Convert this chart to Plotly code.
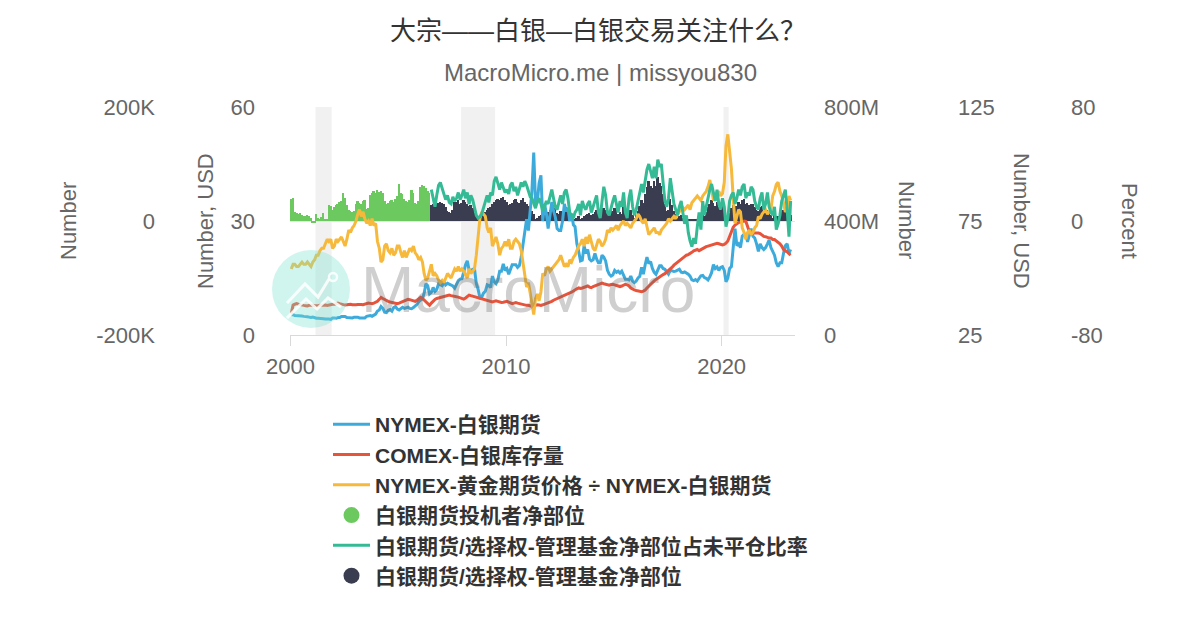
import pandas as pd
import plotly.graph_objects as go

# ---------------- data (monthly) ----------------
months = pd.date_range("2000-01-01", "2023-03-01", freq="MS") + pd.Timedelta(days=14)

silver_usd = [
    5.3, 5.4, 5.1, 5.1, 5.0, 5.0, 5.0, 4.9, 4.9, 4.8, 4.7, 4.6,
    4.7, 4.5, 4.4, 4.4, 4.4, 4.4, 4.3, 4.2, 4.3, 4.2, 4.1, 4.5,
    4.5, 4.4, 4.6, 4.6, 4.9, 4.9, 4.9, 4.6, 4.5, 4.4, 4.5, 4.7,
    4.8, 4.7, 4.5, 4.5, 4.6, 4.5, 4.9, 5.0, 5.1, 4.9, 5.2, 5.5,
    6.3, 6.6, 7.5, 7.0, 6.0, 5.9, 6.5, 6.7, 6.3, 7.2, 7.5, 6.8,
    6.6, 7.1, 7.3, 7.0, 7.2, 7.3, 7.0, 6.9, 7.2, 7.6, 8.1, 8.8,
    9.2, 9.6, 11.0, 13.5, 13.0, 10.8, 11.2, 12.5, 11.5, 12.0, 13.5, 13.2,
    13.0, 14.0, 13.2, 13.6, 13.3, 13.0, 12.9, 12.3, 13.2, 14.3, 14.7, 14.8,
    16.5, 18.5, 19.5, 17.1, 17.0, 17.2, 17.5, 13.5, 12.0, 9.8, 10.0, 11.0,
    11.5, 13.2, 13.0, 12.5, 15.5, 14.0, 13.5, 14.5, 16.8, 16.8, 18.7, 17.0,
    17.5, 16.0, 17.5, 18.5, 18.5, 18.5, 17.8, 18.3, 20.5, 23.8, 27.0, 30.5,
    27.5, 33.0, 37.8, 48.0, 35.0, 35.0, 40.0, 42.0, 30.0, 34.5, 32.0, 28.0,
    32.0, 35.0, 32.7, 31.0, 28.0, 27.5, 27.5, 30.0, 34.5, 32.5, 33.5, 30.0,
    32.0, 29.0, 28.5, 24.0, 22.0, 19.5, 19.7, 23.5, 21.5, 22.5, 20.0, 19.5,
    19.8, 21.5, 20.0, 19.0, 19.0, 21.0, 20.5, 19.5, 17.0, 16.0, 15.5, 15.8,
    17.0, 16.5, 16.8, 16.3, 16.8, 15.6, 14.7, 14.7, 14.5, 15.5, 14.2, 13.8,
    14.2, 15.0, 15.4, 17.8, 16.0, 18.5, 20.5, 18.8, 19.3, 17.5, 16.5, 16.0,
    17.0, 18.2, 18.2, 17.5, 17.3, 16.5, 16.0, 17.0, 16.8, 16.7, 16.8, 17.0,
    17.3, 16.5, 16.4, 16.6, 16.4, 16.0, 15.5, 14.5, 14.3, 14.6, 14.2, 15.0,
    15.6, 15.7, 15.1, 14.9, 14.5, 15.3, 16.4, 18.5, 17.5, 17.9, 17.0, 17.8,
    18.0, 17.0, 14.0, 15.0, 17.5, 18.0, 24.0, 28.0, 23.5, 24.0, 23.0, 26.0,
    26.5, 26.5, 24.5, 26.0, 28.0, 26.0, 25.5, 24.0, 22.0, 24.0, 23.0, 22.5,
    23.0, 24.0, 25.0, 23.0, 22.0, 21.0, 19.0, 18.0, 19.0, 19.0, 21.5, 23.5,
    24.0, 21.5, 22.5,
]

comex_stock_m = [
    75, 105, 108, 110, 108, 106, 105, 104, 103, 102, 104, 105,
    104, 103, 102, 103, 104, 105, 106, 105, 104, 106, 107, 108,
    108, 110, 112, 110, 108, 106, 105, 106, 107, 108, 106, 105,
    106, 107, 108, 107, 106, 108, 110, 112, 111, 110, 112, 115,
    118, 125, 132, 128, 124, 120, 118, 116, 115, 114, 112, 110,
    112, 115, 118, 120, 122, 125, 124, 122, 120, 118, 122, 128,
    132, 128, 122, 115, 108, 104, 112, 120, 125, 128, 130, 132,
    134, 136, 138, 140, 140, 138, 136, 135, 134, 133, 130, 128,
    126, 130, 135, 140, 138, 136, 134, 132, 130, 128, 126, 125,
    124, 122, 120, 118, 116, 118, 120, 118, 116, 114, 115, 117,
    118, 115, 112, 110, 112, 114, 112, 110, 108, 106, 105, 104,
    104, 102, 100, 102, 104, 106, 105, 104, 106, 108, 110, 112,
    115, 118, 122, 125, 128, 132, 135, 138, 140, 142, 145, 148,
    150, 155, 160, 162, 165, 163, 165, 168, 170, 172, 168, 166,
    170, 172, 176, 178, 180, 182, 180, 178, 176, 175, 177, 178,
    176, 174, 172, 170, 172, 175, 178, 176, 172, 165, 160, 158,
    156, 155, 153, 152, 154, 158, 165, 172, 178, 185, 190, 195,
    200, 205, 208, 212, 215, 220, 225, 232, 238, 245, 250, 258,
    262, 268, 272, 276, 280, 282, 285, 290, 295, 298, 300, 296,
    300, 304, 306, 310, 312, 314, 316, 318, 320, 322, 320, 318,
    316, 318, 322, 330, 348, 365, 378, 386, 392, 395, 396, 398,
    400, 398, 380, 362, 358, 358, 360, 360, 358, 356, 350, 346,
    345, 342, 340, 340, 335, 335, 330, 326, 320, 312, 300, 295,
    292, 285, 280,
]

gold_silver_ratio = [
    54, 56, 56, 55, 55, 56, 57, 56, 56, 57, 56, 55,
    57, 58, 60, 60, 62, 63, 63, 65, 67, 66, 67, 63,
    64, 67, 66, 67, 68, 66, 64, 67, 71, 70, 72, 73,
    75, 78, 80, 77, 79, 76, 74, 75, 73, 76, 73, 74,
    66, 63, 57, 58, 64, 65, 62, 61, 63, 60, 61, 64,
    64, 61, 59, 62, 59, 61, 63, 62, 64, 61, 60, 58,
    59, 57, 52, 49, 50, 53, 56, 51, 52, 51, 49, 48,
    49, 48, 50, 52, 51, 50, 52, 54, 53, 55, 53, 54,
    53, 51, 50, 54, 52, 53, 54, 60, 68, 76, 79, 78,
    77, 72, 70, 72, 64, 66, 68, 65, 60, 63, 64, 66,
    64, 67, 63, 63, 66, 67, 66, 65, 62, 57, 51, 46,
    48, 43, 38, 34, 41, 43, 40, 44, 52, 51, 54, 55,
    53, 54, 55, 56, 57, 58, 60, 57, 55, 56, 55, 58,
    57, 59, 60, 62, 64, 65, 67, 64, 68, 65, 69, 66,
    63, 62, 65, 67, 66, 64, 65, 67, 71, 70, 72, 71,
    72, 73, 71, 73, 74, 75, 73, 74, 73, 72, 74, 75,
    76, 78, 77, 75, 74, 76, 72, 69, 70, 71, 72, 70,
    70, 69, 71, 72, 73, 74, 76, 75, 76, 77, 76, 78,
    79, 80, 81, 80, 81, 82, 80, 83, 84, 85, 86, 85,
    84, 86, 87, 88, 90, 93, 89, 84, 86, 87, 88, 86,
    87, 92, 108, 113, 104, 98, 85, 74, 77, 80, 79, 72,
    70, 67, 70, 71, 69, 70, 72, 73, 77, 76, 78, 79,
    80, 78, 79, 80, 86, 88, 91, 92, 88, 86, 83, 79,
    80, 86, 84,
]

# speculators' net position, thousand contracts (2000-01 .. 2006-06)
spec_net_k = [
    38, 40, 16, 14, 12, 14, 10, 9, 8, 11, 9, 6,
    -4, -3, 12, 5, 3, 7, 14, 2, 2, 28, 27, 19,
    25, 28, 30, 33, 35, 49, 40, 28, 19, 17, 16, 18,
    30, 35, 31, 30, 35, 36, 21, 22, 45, 50, 52, 49,
    54, 51, 53, 50, 35, 30, 32, 35, 37, 34, 38, 44,
    65, 50, 47, 38, 35, 33, 36, 54, 50, 32, 30, 35,
    60, 64, 62, 58, 52, 49,
]

# managed money net position, thousand contracts (2006-07 .. 2023-03)
mm_net_k = [
    28, 30, 25, 30, 32, 33,
    32, 30, 25, 18, 16, 14, 20, 34, 33, 36, 30, 32,
    36, 34, 30, 26, 28, 22, 14, 10, 6, 5, 8, 10,
    16, 20, 22, 25, 30, 34, 36, 38, 36, 40, 42, 36,
    34, 28, 30, 32, 36, 38, 34, 32, 36, 40, 34, 30,
    26, 20, 18, 12, 4, 6, 8, 10, 12, 18, 14, 16,
    20, 24, 28, 22, 14, 12, 18, 16, 22, 25, 18, 10,
    6, 4, 3, 5, 8, 4, 6, 8, 10, 12, 14, 10,
    12, 16, 20, 14, 8, 14, 22, 20, 12, 10, 14, 18,
    22, 20, 12, 16, 12, 24, 14, 6, 12, 20, 10, 6,
    10, 18, 26, 36, 32, 48, 60, 70, 62, 58, 70, 62,
    77, 66, 62, 48, 30, 18, 20, 38, 28, 18, 12, 6,
    8, 10, 6, 3, 4, 2, 2, 2, 3, 2, 4, 8,
    4, 14, 8, 16, 24, 30, 36, 32, 26, 34, 24, 20,
    26, 20, 8, 4, 14, 22, 28, 20, 26, 34, 30, 36,
    38, 30, 32, 28, 30, 30, 24, 20, 18, 24, 26, 14,
    14, 20, 16, 10, 6, 10, 8, 8, 12, 18, 20, 16,
    12, 6, 10,
]

# managed money net position as % of open interest (2006-07 .. 2023-03)
mm_pct_oi = [
    22, 15, 10, 18, 25, 27,
    23, 20, 15, 18, 13, 12, 17, 14, 16, 20, 15, 18,
    22, 16, 20, 12, 18, 15, 10, 4, 2, 3, 5, 9,
    14, 18, 13, 20, 18, 28, 31, 26, 22, 27, 24, 20,
    22, 19, 25, 27, 21, 24, 18, 22, 27, 24, 28, 25,
    20, 17, 16, 12, 9, 14, 16, 12, 7, 10, 14, 12,
    18, 22, 16, 10, 8, 14, 18, 12, 20, 22, 16, 6,
    4, 2, 6, 8, 12, 4, 14, 10, 8, 12, 14, 6,
    10, 14, 18, 6, 2, 14, 24, 18, 6, 4, 10, 14,
    18, 12, 6, 14, 10, 20, 6, 2, 16, 22, 10, 4,
    8, 14, 20, 26, 20, 28, 36, 40, 34, 30, 38, 30,
    43, 38, 40, 28, 14, 10, 16, 30, 20, 12, 8, 4,
    10, 14, 6, -2, 4, -8, -14, -18, -12, -16, -4, 6,
    -6, 14, 4, 10, 18, 22, 26, 20, 14, 22, 12, 8,
    16, 10, -4, 2, 14, 18, 20, 12, 16, 22, 18, 24,
    26, 16, 20, 18, 24, 22, 14, 10, 8, 16, 20, 8,
    12, 20, 10, 6, 4, 10, -6, -2, 4, 14, 18, 22,
    8, -11, 14,
]

recessions = [("2001-03-01", "2001-11-30"), ("2007-12-01", "2009-06-30"), ("2020-02-01", "2020-04-30")]

names = {
    "silver": "NYMEX-白银期货",
    "comex": "COMEX-白银库存量",
    "ratio": "NYMEX-黄金期货价格 ÷ NYMEX-白银期货",
    "spec": "白银期货投机者净部位",
    "pct": "白银期货/选择权-管理基金净部位占未平仓比率",
    "mm": "白银期货/选择权-管理基金净部位",
}
colors = {
    "silver": "#3daadc",
    "comex": "#e8533b",
    "ratio": "#f6b93c",
    "spec": "#6cc95f",
    "pct": "#34bb95",
    "mm": "#3a3d4f",
}

# ---------------- layout geometry helpers ----------------
W, H = 1200, 630
ML, MR, MT, MB = 20, 20, 107, 295
PW = W - ML - MR
PH = H - MT - MB
def px(x):
    return (x - ML) / PW
def py(y):
    return (H - MB - y) / PH

x_spec = months[:len(spec_net_k)]
x_mm = months[len(spec_net_k):len(spec_net_k) + len(mm_net_k)]
bar_w = 31 * 24 * 3600 * 1000

fig = go.Figure()
# bars on primary axis (drawn first / lowest)
fig.add_trace(go.Bar(x=x_spec, y=spec_net_k, width=bar_w, marker=dict(color=colors["spec"], line=dict(width=0)),
                     yaxis="y", showlegend=False, name=names["spec"]))
fig.add_trace(go.Bar(x=x_mm, y=mm_net_k, width=bar_w, marker=dict(color=colors["mm"], line=dict(width=0)),
                     yaxis="y", showlegend=False, name=names["mm"]))
fig.add_trace(go.Scatter(x=months, y=silver_usd, mode="lines", line=dict(color=colors["silver"], width=3),
                         yaxis="y2", name=names["silver"], legendrank=1))
fig.add_trace(go.Scatter(x=months, y=comex_stock_m, mode="lines", line=dict(color=colors["comex"], width=3),
                         yaxis="y3", name=names["comex"], legendrank=2))
fig.add_trace(go.Scatter(x=months, y=gold_silver_ratio, mode="lines", line=dict(color=colors["ratio"], width=3),
                         yaxis="y4", name=names["ratio"], legendrank=3))
fig.add_trace(go.Scatter(x=x_mm, y=mm_pct_oi, mode="lines", line=dict(color=colors["pct"], width=3),
                         yaxis="y5", name=names["pct"], legendrank=5))
# legend entries for the bar series (circles)
fig.add_trace(go.Scatter(x=[None], y=[None], mode="markers", marker=dict(color=colors["spec"], size=16),
                         yaxis="y", name=names["spec"], legendrank=4))
fig.add_trace(go.Scatter(x=[None], y=[None], mode="markers", marker=dict(color=colors["mm"], size=16),
                         yaxis="y", name=names["mm"], legendrank=6))

tick_font = dict(size=22, color="#666666")
axis_common = dict(showgrid=False, zeroline=False, showline=False, ticks="", tickfont=tick_font,
                   fixedrange=True, automargin=False)

fig.update_layout(
    width=W, height=H, autosize=False,
    margin=dict(l=ML, r=MR, t=MT, b=MB, autoexpand=False),
    paper_bgcolor="white", plot_bgcolor="white",
    font=dict(family="Liberation Sans, Arial, Noto Sans CJK SC, sans-serif", color="#333333"),
    barmode="overlay", bargap=0,
    showlegend=True,
    title=dict(text="大宗——白银—白银交易关注什么？", x=598 / W, xanchor="center", y=1 - 31 / H, yanchor="middle",
               font=dict(size=26, color="#333333", family="Liberation Sans, Noto Sans CJK SC, sans-serif")),
    xaxis=dict(domain=[px(290), px(795)], type="date", range=["1999-12-25", "2023-05-28"],
               tickvals=["2000-01-01", "2010-01-01", "2020-01-01"], ticktext=["2000", "2010", "2020"],
               showgrid=False, zeroline=False, showline=True, linecolor="#d9d9d9", linewidth=1,
               ticks="outside", ticklen=10, tickcolor="#d9d9d9", tickfont=tick_font, ticklabelstandoff=2,
               anchor="y", fixedrange=True, automargin=False),
    yaxis=dict(axis_common, anchor="free", position=px(155), side="left", range=[-200, 200],
               tickvals=[-200, 0, 200], ticktext=["-200K", "0", "200K"], showgrid=True, gridcolor="#e6e6e6"),
    yaxis2=dict(axis_common, anchor="free", overlaying="y", position=px(255), side="left", range=[0, 60],
                tickvals=[0, 30, 60], ticktext=["0", "30", "60"]),
    yaxis3=dict(axis_common, anchor="free", overlaying="y", position=px(823), side="right", range=[0, 800],
                tickvals=[0, 400, 800], ticktext=["0", "400M", "800M"]),
    yaxis4=dict(axis_common, anchor="free", overlaying="y", position=px(957), side="right", range=[25, 125],
                tickvals=[25, 75, 125], ticktext=["25", "75", "125"]),
    yaxis5=dict(axis_common, anchor="free", overlaying="y", position=px(1070), side="right", range=[-80, 80],
                tickvals=[-80, 0, 80], ticktext=["-80", "0", "80"]),
    legend=dict(x=px(328), y=py(404), xanchor="left", yanchor="top", orientation="v",
                font=dict(size=21, color="#333333", weight="bold"), itemwidth=37,
                bgcolor="rgba(0,0,0,0)", traceorder="normal", itemclick=False, itemdoubleclick=False),
)

# recession shading
shapes = []
for a, b in recessions:
    shapes.append(dict(type="rect", xref="x", yref="paper", x0=a, x1=b, y0=0, y1=1,
                       fillcolor="rgba(0,0,0,0.055)", line=dict(width=0), layer="below"))

# watermark logo (circle + zigzag) on top
cx, cy, r = 311, 289, 39
shapes.append(dict(type="circle", xref="paper", yref="paper", x0=px(cx - r), x1=px(cx + r), y0=py(cy + r), y1=py(cy - r),
                   fillcolor="rgba(120,225,205,0.35)", line=dict(width=0), layer="above"))
def path_from(points):
    return "M " + " L ".join(f"{px(x):.5f},{py(y):.5f}" for x, y in points)
shapes.append(dict(type="path", xref="paper", yref="paper", path=path_from([(287, 303), (305, 284), (318, 297), (329, 279)]),
                   line=dict(color="rgba(255,255,255,0.85)", width=3), layer="above"))
shapes.append(dict(type="path", xref="paper", yref="paper", path=path_from([(287, 318), (306, 299), (317, 309), (328, 298), (341, 307)]),
                   line=dict(color="rgba(255,255,255,0.85)", width=3), layer="above"))
shapes.append(dict(type="circle", xref="paper", yref="paper", x0=px(329), x1=px(337), y0=py(281), y1=py(273),
                   fillcolor="rgba(0,0,0,0)", line=dict(color="rgba(255,255,255,0.85)", width=2.5), layer="above"))
fig.update_layout(shapes=shapes)

annotations = [
    dict(text="MacroMicro.me | missyou830", x=px(600), y=py(72), xref="paper", yref="paper", showarrow=False,
         xanchor="center", yanchor="middle", font=dict(size=24, color="#666666")),
    dict(text="MacroMicro", x=px(528), y=py(290), xref="paper", yref="paper", showarrow=False,
         xanchor="center", yanchor="middle", font=dict(size=64, color="rgba(110,110,110,0.33)")),
    dict(text="Number", x=px(68), y=py(221), xref="paper", yref="paper", showarrow=False, textangle=-90,
         xanchor="center", yanchor="middle", font=dict(size=22, color="#666666")),
    dict(text="Number, USD", x=px(205), y=py(221), xref="paper", yref="paper", showarrow=False, textangle=-90,
         xanchor="center", yanchor="middle", font=dict(size=22, color="#666666")),
    dict(text="Number", x=px(907), y=py(220), xref="paper", yref="paper", showarrow=False, textangle=90,
         xanchor="center", yanchor="middle", font=dict(size=22, color="#666666")),
    dict(text="Number, USD", x=px(1022), y=py(221), xref="paper", yref="paper", showarrow=False, textangle=90,
         xanchor="center", yanchor="middle", font=dict(size=22, color="#666666")),
    dict(text="Percent", x=px(1130), y=py(221), xref="paper", yref="paper", showarrow=False, textangle=90,
         xanchor="center", yanchor="middle", font=dict(size=22, color="#666666")),
]
fig.update_layout(annotations=annotations)

fig.write_html("out.html", config={"displayModeBar": False})
